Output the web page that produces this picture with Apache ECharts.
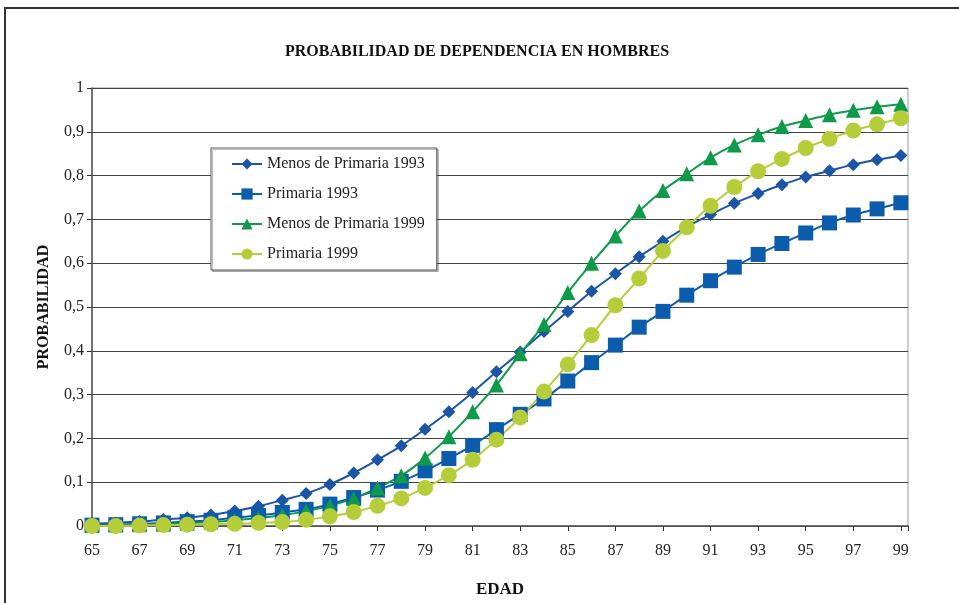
<!DOCTYPE html>
<html>
<head>
<meta charset="utf-8">
<script src="https://cdn.jsdelivr.net/npm/echarts@6/dist/echarts.min.js"></script>
<style>html,body{margin:0;padding:0;background:#fff;}#c{width:959px;height:603px;}</style>
</head>
<body>
<div id="c"></div>
<script>
const ages = [65,66,67,68,69,70,71,72,73,74,75,76,77,78,79,80,81,82,83,84,85,86,87,88,89,90,91,92,93,94,95,96,97,98,99];
const menosPrimaria1993 = [0.005,0.007,0.010,0.015,0.019,0.025,0.034,0.045,0.059,0.074,0.095,0.121,0.151,0.183,0.221,0.261,0.305,0.352,0.397,0.444,0.490,0.536,0.576,0.615,0.650,0.683,0.711,0.737,0.759,0.779,0.797,0.811,0.825,0.836,0.846];
const primaria1993 = [0.002,0.003,0.005,0.007,0.010,0.013,0.019,0.024,0.031,0.038,0.050,0.065,0.082,0.102,0.126,0.154,0.184,0.220,0.255,0.290,0.331,0.373,0.413,0.454,0.490,0.527,0.560,0.591,0.620,0.645,0.669,0.692,0.710,0.724,0.738];
const menosPrimaria1999 = [0.001,0.002,0.003,0.004,0.006,0.009,0.013,0.018,0.025,0.034,0.046,0.063,0.087,0.115,0.155,0.204,0.261,0.322,0.393,0.460,0.533,0.600,0.662,0.719,0.766,0.804,0.841,0.870,0.893,0.912,0.926,0.939,0.949,0.957,0.963];
const primaria1999 = [0.000,0.000,0.001,0.002,0.003,0.004,0.005,0.007,0.009,0.014,0.022,0.032,0.046,0.063,0.087,0.116,0.151,0.197,0.248,0.307,0.369,0.436,0.504,0.565,0.628,0.682,0.731,0.774,0.810,0.838,0.863,0.884,0.903,0.917,0.931];
const seriesNames = ['Menos de Primaria 1993','Primaria 1993','Menos de Primaria 1999','Primaria 1999'];
const yTicks = [0,0.1,0.2,0.3,0.4,0.5,0.6,0.7,0.8,0.9,1];

const FONT = '"Liberation Serif","DejaVu Serif",serif';
const pairs = arr => ages.map((a,i)=>[a,arr[i]]);
const chart = echarts.init(document.getElementById('c'), null, {renderer:'canvas'});
function mk(name, data, color, symbol, size){
  return {name, type:'line', data:pairs(data), smooth:0.3, symbol, symbolSize:size,
    showAllSymbol:true,
    lineStyle:{color, width:2}, itemStyle:{color, borderColor:color, borderWidth:0}, z:3};
}
chart.setOption({
  animation:false,
  backgroundColor:'#fff',
  title:{text:'PROBABILIDAD DE DEPENDENCIA EN HOMBRES', left:472, textAlign:'center', top:39,
    textStyle:{fontFamily:FONT, fontSize:16, fontWeight:'bold', color:'#111'}},
  grid:{left:92, right:51, top:88, bottom:76, show:true, borderColor:'#999', borderWidth:1},
  legend:{orient:'vertical', left:211, top:148, padding:[8,12,8,20], itemGap:14,
    itemWidth:30, itemHeight:14, borderColor:'#555', borderWidth:1, backgroundColor:'#fff',
    shadowColor:'rgba(0,0,0,0.25)', shadowOffsetX:1.5, shadowOffsetY:1.5, shadowBlur:0,
    textStyle:{fontFamily:FONT, fontSize:16, color:'#222'}, data:seriesNames},
  xAxis:{type:'value', min:65, max:99.3, interval:2,
    name:'EDAD', nameLocation:'middle', nameGap:55,
    nameTextStyle:{fontFamily:FONT, fontSize:17, fontWeight:'bold', color:'#111'},
    axisLine:{show:true, lineStyle:{color:'#555', width:1.5}},
    axisTick:{show:true, inside:false, length:5, lineStyle:{color:'#333'}},
    axisLabel:{fontFamily:FONT, fontSize:16, color:'#222', margin:17,
      formatter:v=> (Math.abs(v-Math.round(v))<1e-6 && Math.round(v)%2===1) ? String(Math.round(v)) : ''},
    splitLine:{show:false}},
  yAxis:{type:'value', min:0, max:1, interval:0.1,
    name:'PROBABILIDAD', nameLocation:'middle', nameGap:40, nameRotate:90,
    nameTextStyle:{fontFamily:FONT, fontSize:16, fontWeight:'bold', color:'#111'},
    axisLine:{show:true, lineStyle:{color:'#555', width:1.5}},
    axisTick:{show:true, length:5, lineStyle:{color:'#333'}},
    axisLabel:{fontFamily:FONT, fontSize:16, color:'#222', margin:8,
      formatter:v=>{ const t = yTicks.find(x=>Math.abs(x-v)<1e-6); return t===undefined?'':String(+t.toFixed(1)).replace('.',','); }},
    splitLine:{show:true, lineStyle:{color:'#444', width:1}}},
  graphic:[{type:'polyline', silent:true, z:10,
    shape:{points:[[5,603],[5,8],[959,8]]}, style:{stroke:'#333', lineWidth:2, fill:null}}],
  series:[
    mk(seriesNames[0], menosPrimaria1993, '#1a55a6', 'diamond', 13),
    mk(seriesNames[1], primaria1993, '#0b5cad', 'rect', 15),
    mk(seriesNames[2], menosPrimaria1999, '#0f9a4a', 'triangle', 15),
    mk(seriesNames[3], primaria1999, '#b6cd3a', 'circle', 16)
  ]
});
</script>
</body>
</html>
